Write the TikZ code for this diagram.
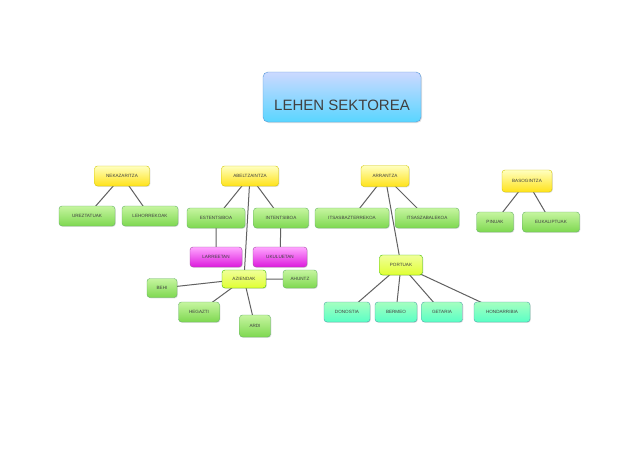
\documentclass[tikz,border=0pt]{standalone}
\usepackage{fontspec}
\setmainfont{Liberation Sans}
\usetikzlibrary{shadows}
\definecolor{gtop}{HTML}{C6F5A0}
\definecolor{gbot}{HTML}{7ED850}
\begin{document}
\begin{tikzpicture}[x=1pt,y=-1pt,
  box/.style={rounded corners=3pt, minimum height=20pt, inner sep=1pt,
    font=\fontsize{4.6}{5}\selectfont, text=black!75, drop shadow={opacity=0.25,shadow xshift=0.8pt,shadow yshift=-0.8pt}},
  yel/.style={box, draw=yellow!60!olive, top color=yellow!25, bottom color=yellow!75!orange!90},
  grn/.style={box, draw=green!50!black!60, top color=gtop, bottom color=gbot},
  ygr/.style={box, draw=green!50!olive, top color=yellow!40!lime!40, bottom color=lime!60!yellow!80},
  mag/.style={box, draw=violet!70, top color=magenta!35, bottom color=magenta!70!violet!90},
  cyn/.style={box, draw=teal!70, top color=cyan!30!green!35, bottom color=cyan!65!green!65},
  ttl/.style={rounded corners=5pt, draw=cyan!60!blue!70, top color=cyan!25!blue!20, bottom color=cyan!75!blue!65,
    minimum width=158pt, minimum height=50pt,
    drop shadow={opacity=0.25,shadow xshift=1pt,shadow yshift=-1pt}},
  ttltext/.style={font=\fontsize{15}{16}\selectfont, text=black!75, inner sep=0pt},
  ln/.style={draw=black!62, line width=1pt}]
\useasboundingbox (0,0) rectangle (638,451);
\fill[white] (0,0) rectangle (638,451);
\node[ttl] (t) at (342,97) {};
\node[ttltext] (tt) at (342,105) {LEHEN SEKTOREA};
\path
 (122,176) coordinate (nekC) (87,216) coordinate (urzC) (150,216) coordinate (lehC)
 (250,176) coordinate (abeC) (216,218) coordinate (estC) (281,218) coordinate (intC)
 (216,257) coordinate (larC) (280,257) coordinate (ukuC) (244,279) coordinate (aziC)
 (300,279) coordinate (ahuC) (162,288) coordinate (behC) (199,312) coordinate (hegC) (255,326) coordinate (ardC)
 (385,176) coordinate (arrC) (352,218) coordinate (ibzC) (427,218) coordinate (izbC)
 (401,265) coordinate (porC) (347,312) coordinate (donC) (396,312) coordinate (berC) (442,312) coordinate (getC) (502,312) coordinate (honC)
 (527,181) coordinate (basC) (495,222) coordinate (pinC) (551,222) coordinate (eukC);
\draw[ln] (nekC) -- (urzC) (nekC) -- (lehC)
 (abeC) -- (estC) (abeC) -- (intC) (abeC) -- (aziC)
 (estC) -- (larC) (intC) -- (ukuC)
 (aziC) -- (ahuC) (aziC) -- (behC) (aziC) -- (hegC) (aziC) -- (ardC)
 (arrC) -- (ibzC) (arrC) -- (izbC) (arrC) -- (porC)
 (porC) -- (donC) (porC) -- (berC) (porC) -- (getC) (porC) -- (honC)
 (basC) -- (pinC) (basC) -- (eukC);
\node[yel, minimum width=55pt] (nek) at (nekC) {NEKAZARITZA};
\node[grn, minimum width=56pt] (urz) at (urzC) {UREZTATUAK};
\node[grn, minimum width=56pt] (leh) at (lehC) {LEHORREKOAK};
\node[yel, minimum width=57pt] (abe) at (abeC) {ABELTZAINTZA};
\node[grn, minimum width=58pt] (est) at (estC) {ESTENTSIBOA};
\node[grn, minimum width=55pt] (int) at (intC) {INTENTSIBOA};
\node[mag, minimum width=52pt] (lar) at (larC) {LARREETAN};
\node[mag, minimum width=54pt] (uku) at (ukuC) {UKULUETAN};
\node[ygr, minimum width=44pt, minimum height=18pt] (azi) at (aziC) {AZIENDAK};
\node[grn, minimum width=34pt, minimum height=18pt] (ahu) at (ahuC) {AHUNTZ};
\node[grn, minimum width=30pt, minimum height=19pt] (beh) at (behC) {BEHI};
\node[grn, minimum width=41pt] (heg) at (hegC) {HEGAZTI};
\node[grn, minimum width=31pt, minimum height=22pt] (ard) at (ardC) {ARDI};
\node[yel, minimum width=48pt, minimum height=21pt] (arr) at (arrC) {ARRANTZA};
\node[grn, minimum width=74pt] (ibz) at (ibzC) {ITSASBAZTERREKOA};
\node[grn, minimum width=64pt] (izb) at (izbC) {ITSASZABALEKOA};
\node[ygr, minimum width=43pt] (por) at (porC) {PORTUAK};
\node[cyn, minimum width=46pt] (don) at (donC) {DONOSTIA};
\node[cyn, minimum width=42pt] (ber) at (berC) {BERMEO};
\node[cyn, minimum width=41pt] (get) at (getC) {GETARIA};
\node[cyn, minimum width=56pt] (hon) at (honC) {HONDARRIBIA};
\node[yel, minimum width=50pt, minimum height=22pt] (bas) at (basC) {BASOGINTZA};
\node[grn, minimum width=37pt] (pin) at (pinC) {PINUAK};
\node[grn, minimum width=57pt] (euk) at (eukC) {EUKALIPTUAK};
\end{tikzpicture}
\end{document}
